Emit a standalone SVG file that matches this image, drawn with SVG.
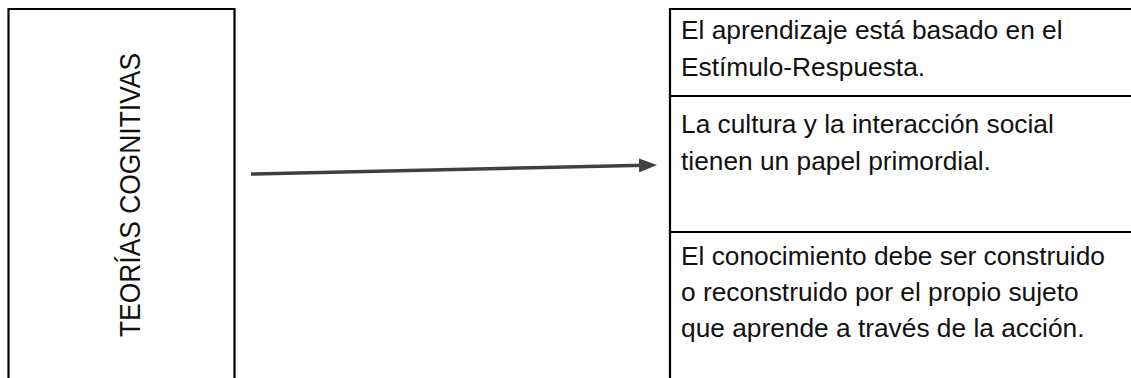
<svg xmlns="http://www.w3.org/2000/svg" width="1131" height="378" viewBox="0 0 1131 378">
<style>
.ln{stroke:#000;stroke-width:2.2;fill:none}
.t{font-family:"Liberation Sans",Arial,sans-serif;font-size:26.3px;fill:#111}
.c{stroke:#404040;stroke-width:3.5;fill:none}
</style>
<defs>
<marker id="ah" markerWidth="18" markerHeight="14" refX="6" refY="7" orient="auto" markerUnits="userSpaceOnUse">
<path d="M0,0 L18,7 L0,14 z" fill="#404040"/>
</marker>
</defs>
<rect width="1131" height="378" fill="#fff"/>
<g id="node-teorias">
<path class="ln" d="M8.5,378 V9 H234.5 V378"/>
<text class="t" transform="translate(140,195) rotate(-90)" text-anchor="middle" style="font-size:30px" textLength="284" lengthAdjust="spacingAndGlyphs">TEORÍAS COGNITIVAS</text>
</g>
<g id="node-list">
<path class="ln" d="M1131,9 H670 V378"/>
<line class="ln" x1="670" y1="96" x2="1131" y2="96"/>
<line class="ln" x1="670" y1="232" x2="1131" y2="232"/>
<g id="item-1">
<text class="t" x="681" y="39">El aprendizaje está basado en el</text>
<text class="t" x="681" y="76">Estímulo-Respuesta.</text>
</g>
<g id="item-2">
<text class="t" x="681" y="133">La cultura y la interacción social</text>
<text class="t" x="681" y="170">tienen un papel primordial.</text>
</g>
<g id="item-3">
<text class="t" x="681" y="265">El conocimiento debe ser construido</text>
<text class="t" x="681" y="301">o reconstruido por el propio sujeto</text>
<text class="t" x="681" y="337">que aprende a través de la acción.</text>
</g>
</g>
<g id="connectors">
<line class="c" x1="251" y1="174" x2="645" y2="165.3" marker-end="url(#ah)"/>
</g>
</svg>
